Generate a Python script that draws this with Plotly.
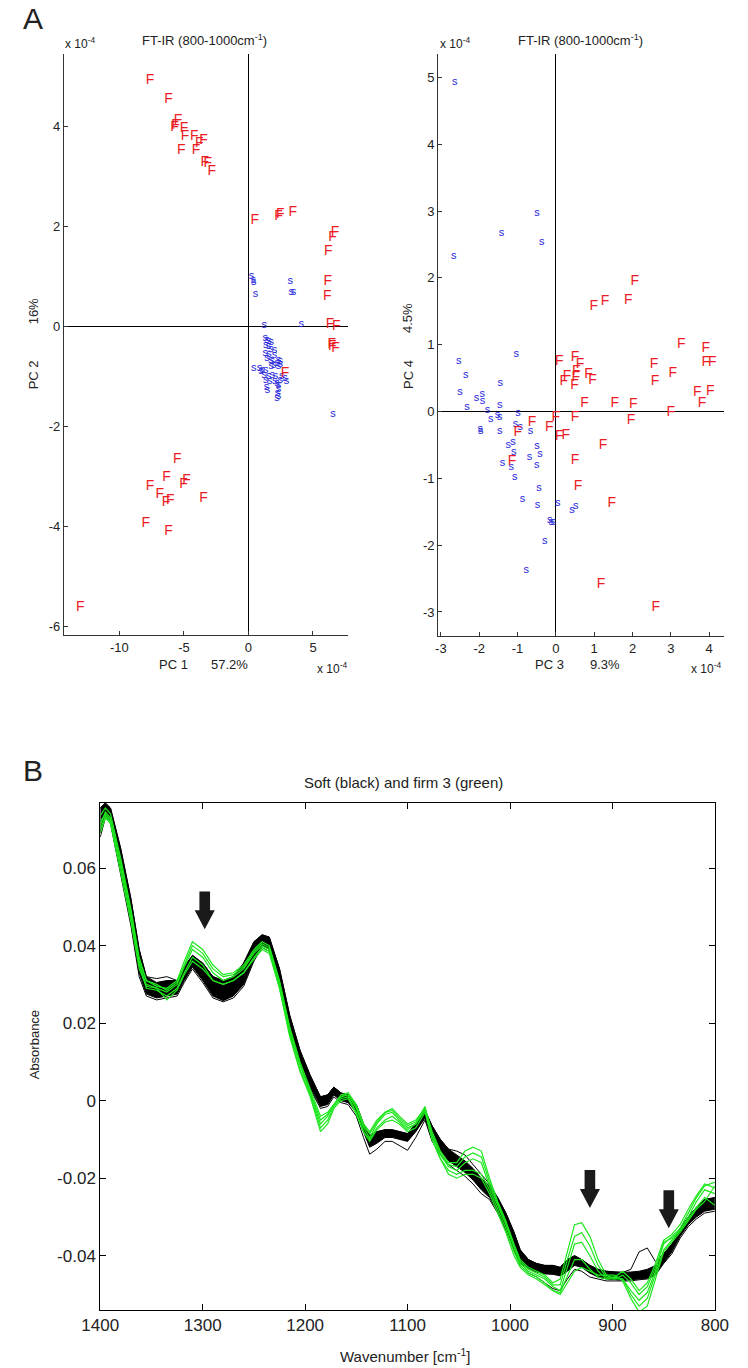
import plotly.graph_objects as go

W, H = 748, 1368
FONT = "Liberation Sans, Arial, sans-serif"
TXT = "#222222"
RED = "#ec1c24"
BLUE = "#2626dc"
GREEN = "#1ee61e"

# ---------- Panel A (left): PC1 vs PC2, units x1e-4 ----------
pc1_firm = [-7.62, -6.19, -5.46, -5.65, -5.72, -4.99, -4.92, -5.21, -4.20, -3.49, -3.81, -4.06,
            -3.39, -3.15, -2.85, 0.49, 2.34, 2.46, 3.44, 6.71, 6.51, 6.19, 6.14, 6.10, 6.32,
            6.81, 6.45, 6.50, 6.75, 2.83, -5.51, -6.34, -7.62, -4.79, -5.04, -6.88, -6.05,
            -6.39, -3.49, -7.96, -6.19, -13.03]
pc2_firm = [4.92, 4.54, 4.12, 4.02, 3.97, 3.95, 3.80, 3.52, 3.80, 3.72, 3.65, 3.52,
            3.27, 3.25, 3.09, 2.12, 2.19, 2.23, 2.27, 1.87, 1.77, 1.49, 0.90, 0.60, 0.04,
            0.00, -0.37, -0.40, -0.44, -0.95, -2.67, -3.03, -3.20, -3.08, -3.16, -3.36, -3.48,
            -3.53, -3.45, -3.95, -4.11, -5.63]
pc1_soft = [0.24, 0.37, 0.42, 0.54, 3.24, 3.32, 3.49, 4.10, 1.23,
            1.30, 1.43, 1.60, 1.77, 1.35, 1.55, 1.72, 2.02, 1.30, 1.60, 2.02, 1.43, 1.72,
            1.84, 2.33, 2.46, 2.21, 2.46, 1.97, 1.77, 2.33, 0.42, 0.86, 1.06, 1.35, 1.23,
            1.55, 1.84, 2.09, 2.58, 2.83, 2.95, 1.35, 1.65, 2.04, 2.21, 2.33, 1.40, 1.48,
            2.33, 2.26, 2.33, 2.21, 2.46, 0.98, 6.56]
pc2_soft = [1.00, 0.92, 0.87, 0.63, 0.89, 0.67, 0.67, 0.04, 0.01,
            -0.25, -0.28, -0.31, -0.33, -0.38, -0.41, -0.47, -0.48, -0.55, -0.56, -0.58, -0.65, -0.68,
            -0.71, -0.68, -0.71, -0.75, -0.76, -0.78, -0.81, -0.81, -0.85, -0.85, -0.88, -0.89, -0.98,
            -1.01, -0.98, -1.01, -1.01, -1.05, -1.11, -1.08, -1.11, -1.11, -1.15, -1.18, -1.23, -1.29,
            -1.27, -1.35, -1.41, -1.45, -1.08, -0.91, -1.77]

# ---------- Panel A (right): PC3 vs PC4, units x1e-4 ----------
pc3_firm = [2.06, 1.89, 0.99, 1.28, 3.27, 3.91, 3.91, 4.08, 0.09, 0.50, 0.63, 0.53, 0.29, 0.21,
            0.52, 0.49, 0.85, 0.96, 2.56, 2.59, 3.05, 3.69, 4.03, 3.81, 0.75, 1.54, 2.02, 3.00,
            0.00, 0.50, 1.96, -0.17, 0.09, 0.26, 1.23, 0.50, 0.58, 1.46, 1.18, 2.61, -0.62,
            -0.99, -1.14]
pc4_firm = [1.95, 1.66, 1.57, 1.64, 1.00, 0.95, 0.74, 0.74, 0.75, 0.81, 0.70, 0.60, 0.52, 0.45,
            0.51, 0.39, 0.55, 0.46, 0.70, 0.45, 0.57, 0.28, 0.30, 0.12, 0.12, 0.12, 0.10, -0.01,
            -0.09, -0.09, -0.13, -0.24, -0.37, -0.36, -0.51, -0.73, -1.12, -1.37, -2.59, -2.94, -0.17,
            -0.32, -0.75]
pc3_soft = [-2.64, -2.66, -1.42, -0.49, -0.37, -1.03, -2.53, -2.35, -2.50, -2.32, -2.07, -1.92,
            -1.91, -1.45, -1.46, -1.78, -1.70, -1.52, -1.46, -1.97, -1.96, -1.46, -0.99, -1.05,
            -0.93, -0.66, -1.24, -1.12, -1.10, -0.69, -0.49, -0.41, -0.50, -1.39, -1.16, -1.07,
            -0.44, -0.87, -0.48, 0.05, -0.16, -0.12, -0.06, -0.29, -0.77, 0.42, 0.52]
pc4_soft = [4.93, 2.32, 2.67, 2.97, 2.53, 0.85, 0.75, 0.54, 0.29, 0.07, 0.20, 0.26,
            0.15, 0.42, 0.09, 0.02, -0.11, -0.06, -0.08, -0.27, -0.29, -0.29, -0.03, -0.19,
            -0.24, -0.29, -0.50, -0.46, -0.61, -0.68, -0.52, -0.64, -0.81, -0.78, -0.83, -0.98,
            -1.15, -1.32, -1.40, -1.37, -1.63, -1.66, -1.66, -1.94, -2.37, -1.48, -1.42]

# ---------- Panel B: spectra ----------
wavenumber = [1400, 1395, 1390, 1380, 1370, 1362, 1355, 1345, 1335, 1325, 1318, 1310, 1300, 1290,
              1280, 1270, 1260, 1250, 1242, 1235, 1225, 1215, 1205, 1195, 1185, 1178, 1172, 1165,
              1158, 1150, 1143, 1137, 1130, 1122, 1115, 1108, 1100, 1092, 1083, 1076, 1068, 1060,
              1052, 1044, 1036, 1028, 1020, 1012, 1004, 996, 990, 982, 974, 966, 958, 951, 944,
              937, 930, 922, 914, 906, 898, 890, 882, 874, 866, 858, 850, 842, 834, 826, 818, 810, 800]

soft_upper = [0.0755, 0.0768, 0.0755, 0.065, 0.052, 0.039, 0.032, 0.0305, 0.031, 0.031, 0.0345, 0.0375,
              0.0355, 0.032, 0.031, 0.032, 0.0355, 0.041, 0.0428, 0.0422, 0.034, 0.022, 0.013, 0.0065,
              0.001, 0.0015, 0.0035, 0.002, 0.0015, -0.001, -0.006, -0.009, -0.008, -0.0075, -0.0075,
              -0.008, -0.0085, -0.006, -0.0025, -0.0065, -0.010, -0.0125, -0.014, -0.0155, -0.0175,
              -0.020, -0.022, -0.025, -0.029, -0.034, -0.0385, -0.041, -0.042, -0.0425, -0.0425,
              -0.043, -0.041, -0.040, -0.041, -0.0425, -0.0435, -0.044, -0.0442, -0.0443, -0.0442,
              -0.044, -0.0435, -0.0425, -0.0395, -0.037, -0.033, -0.030, -0.0275, -0.0255, -0.025]
soft_lower = [0.069, 0.0735, 0.072, 0.059, 0.046, 0.033, 0.0275, 0.0265, 0.027, 0.0275, 0.031, 0.0345,
              0.031, 0.027, 0.0258, 0.027, 0.030, 0.0365, 0.040, 0.039, 0.030, 0.018, 0.010, 0.0035,
              -0.0015, -0.001, 0.0015, 0.0, -0.0005, -0.003, -0.008, -0.012, -0.011, -0.0095, -0.0095,
              -0.010, -0.0105, -0.008, -0.0045, -0.0095, -0.013, -0.0155, -0.017, -0.0185, -0.0205,
              -0.023, -0.025, -0.0285, -0.033, -0.038, -0.042, -0.0432, -0.0442, -0.0447, -0.0448,
              -0.0452, -0.044, -0.0425, -0.043, -0.0445, -0.0455, -0.046, -0.0462, -0.0463, -0.0462,
              -0.046, -0.0458, -0.0447, -0.0418, -0.039, -0.035, -0.032, -0.030, -0.0285, -0.028]
soft_line1 = [0.068, 0.073, 0.0715, 0.058, 0.045, 0.032, 0.027, 0.026, 0.0265, 0.027, 0.0305, 0.034,
              0.0305, 0.0265, 0.0255, 0.0265, 0.0295, 0.036, 0.0395, 0.0385, 0.0295, 0.0175, 0.0095, 0.003,
              -0.002, -0.0015, 0.001, -0.0005, -0.001, -0.004, -0.0095, -0.0138, -0.0125, -0.0105, -0.0105,
              -0.0115, -0.0128, -0.0095, -0.005, -0.0105, -0.014, -0.0165, -0.018, -0.0195, -0.0215,
              -0.024, -0.0255, -0.029, -0.0335, -0.0385, -0.0425, -0.0445, -0.0455, -0.047, -0.0485,
              -0.049, -0.046, -0.0435, -0.044, -0.0455, -0.046, -0.0465, -0.0465, -0.0465, -0.0465,
              -0.0462, -0.046, -0.045, -0.042, -0.0395, -0.0355, -0.0325, -0.0305, -0.029, -0.0285]
soft_line2 = [0.0755, 0.0768, 0.0755, 0.065, 0.052, 0.039, 0.032, 0.0315, 0.032, 0.031, 0.0345, 0.0375,
              0.0355, 0.032, 0.031, 0.032, 0.0355, 0.041, 0.0428, 0.0422, 0.034, 0.022, 0.013, 0.0065,
              0.001, 0.0015, 0.0035, 0.002, 0.0015, -0.001, -0.006, -0.009, -0.008, -0.0075, -0.0075,
              -0.008, -0.0085, -0.006, -0.0025, -0.0065, -0.010, -0.0125, -0.013, -0.014, -0.0165,
              -0.019, -0.0215, -0.025, -0.029, -0.034, -0.0385, -0.041, -0.042, -0.0425, -0.0425,
              -0.043, -0.041, -0.040, -0.041, -0.0425, -0.0435, -0.044, -0.0442, -0.0443, -0.0435,
              -0.039, -0.038, -0.0415, -0.0395, -0.037, -0.033, -0.030, -0.0275, -0.0255, -0.025]

firm_1 = [0.072, 0.074, 0.0725, 0.061, 0.048, 0.036, 0.031, 0.0295, 0.029, 0.031, 0.036, 0.041,
          0.039, 0.035, 0.0325, 0.033, 0.035, 0.039, 0.041, 0.040, 0.031, 0.019, 0.010, 0.003,
          -0.004, -0.003, -0.001, 0.001, 0.002, -0.001, -0.006, -0.008, -0.005, -0.003, -0.002,
          -0.004, -0.006, -0.005, -0.002, -0.008, -0.013, -0.016, -0.016, -0.013, -0.012,
          -0.013, -0.020, -0.026, -0.031, -0.037, -0.041, -0.043, -0.044, -0.045, -0.047,
          -0.046, -0.039, -0.032, -0.0315, -0.035, -0.041, -0.045, -0.046, -0.045, -0.047,
          -0.050, -0.048, -0.043, -0.037, -0.035, -0.033, -0.029, -0.025, -0.022, -0.021]
firm_2 = [0.070, 0.0735, 0.072, 0.060, 0.047, 0.035, 0.030, 0.029, 0.028, 0.030, 0.0345, 0.039,
          0.037, 0.033, 0.031, 0.032, 0.034, 0.038, 0.040, 0.039, 0.030, 0.018, 0.009, 0.002,
          -0.006, -0.004, -0.001, 0.001, 0.0015, -0.002, -0.007, -0.0095, -0.006, -0.0035, -0.003,
          -0.005, -0.007, -0.006, -0.002, -0.009, -0.014, -0.017, -0.018, -0.016, -0.015,
          -0.016, -0.022, -0.027, -0.032, -0.038, -0.042, -0.044, -0.045, -0.046, -0.048,
          -0.049, -0.043, -0.037, -0.0365, -0.040, -0.044, -0.046, -0.046, -0.046, -0.050,
          -0.053, -0.051, -0.045, -0.0385, -0.036, -0.0335, -0.030, -0.026, -0.023, -0.024]
firm_3 = [0.071, 0.0745, 0.073, 0.0615, 0.0485, 0.0355, 0.029, 0.0285, 0.027, 0.029, 0.033, 0.037,
          0.035, 0.031, 0.030, 0.031, 0.033, 0.037, 0.0395, 0.0385, 0.029, 0.017, 0.008, 0.0015,
          -0.007, -0.005, -0.0015, 0.0005, 0.001, -0.003, -0.008, -0.010, -0.007, -0.005, -0.004,
          -0.0055, -0.0075, -0.006, -0.0025, -0.010, -0.015, -0.018, -0.019, -0.018, -0.018,
          -0.019, -0.023, -0.028, -0.033, -0.039, -0.0425, -0.0445, -0.0455, -0.047, -0.049,
          -0.0495, -0.045, -0.041, -0.041, -0.0435, -0.0455, -0.046, -0.0455, -0.046, -0.049,
          -0.0515, -0.0495, -0.044, -0.0365, -0.0355, -0.0335, -0.0305, -0.0275, -0.025, -0.027]
firm_4 = [0.069, 0.073, 0.0715, 0.059, 0.046, 0.034, 0.0295, 0.029, 0.026, 0.0285, 0.0325, 0.036,
          0.034, 0.031, 0.030, 0.031, 0.033, 0.0365, 0.039, 0.038, 0.029, 0.0165, 0.0075, 0.001,
          -0.008, -0.006, -0.002, 0.0, 0.0005, -0.0035, -0.008, -0.0105, -0.0075, -0.0055, -0.005,
          -0.006, -0.008, -0.007, -0.003, -0.010, -0.015, -0.019, -0.020, -0.019, -0.019,
          -0.020, -0.024, -0.029, -0.034, -0.040, -0.043, -0.045, -0.046, -0.0475, -0.049,
          -0.050, -0.047, -0.044, -0.043, -0.044, -0.045, -0.045, -0.045, -0.0465, -0.051,
          -0.0545, -0.053, -0.046, -0.039, -0.0365, -0.034, -0.031, -0.028, -0.026, -0.022]
firm_5 = [0.0735, 0.0755, 0.074, 0.0625, 0.0495, 0.037, 0.031, 0.030, 0.0285, 0.0305, 0.035, 0.040,
          0.038, 0.034, 0.032, 0.0325, 0.0345, 0.0385, 0.0405, 0.0395, 0.0305, 0.0185, 0.0095, 0.0025,
          -0.005, -0.0035, -0.001, 0.0015, 0.002, -0.0015, -0.0065, -0.0085, -0.0055, -0.003, -0.0025,
          -0.0045, -0.0065, -0.0055, -0.0015, -0.0085, -0.0135, -0.0165, -0.017, -0.0145, -0.0135,
          -0.0145, -0.021, -0.0265, -0.0315, -0.0375, -0.0415, -0.0435, -0.0445, -0.0455, -0.0475,
          -0.0475, -0.041, -0.035, -0.034, -0.0375, -0.0425, -0.0455, -0.0455, -0.044, -0.046,
          -0.049, -0.047, -0.042, -0.036, -0.0345, -0.032, -0.028, -0.0245, -0.0215, -0.0225]

arrow_wn = [1298, 922, 845]
arrow_tip = [0.0442, -0.0277, -0.0329]


def pxx(p):
    return p / W


def pxy(p):
    return 1 - p / H


fig = go.Figure()


def add_text_points(x, y, label, color, size, xa, ya):
    fig.add_trace(go.Scatter(
        x=x, y=y, mode="text", text=[label] * len(x),
        textposition="middle center",
        textfont=dict(color=color, size=size, family=FONT),
        xaxis=xa, yaxis=ya, hoverinfo="skip", showlegend=False))


add_text_points(pc1_soft, pc2_soft, "s", BLUE, 11, "x", "y")
add_text_points(pc1_firm, pc2_firm, "F", RED, 14, "x", "y")
add_text_points(pc3_soft, pc4_soft, "s", BLUE, 11, "x2", "y2")
add_text_points(pc3_firm, pc4_firm, "F", RED, 14, "x2", "y2")

# soft band
fig.add_trace(go.Scatter(x=wavenumber, y=soft_lower, mode="lines",
                         line=dict(color="black", width=1), xaxis="x3", yaxis="y3",
                         hoverinfo="skip", showlegend=False))
fig.add_trace(go.Scatter(x=wavenumber, y=soft_upper, mode="lines", fill="tonexty",
                         fillcolor="black", line=dict(color="black", width=1),
                         xaxis="x3", yaxis="y3", hoverinfo="skip", showlegend=False))
for s in (soft_line1, soft_line2):
    fig.add_trace(go.Scatter(x=wavenumber, y=s, mode="lines",
                             line=dict(color="black", width=1), xaxis="x3", yaxis="y3",
                             hoverinfo="skip", showlegend=False))
for g in (firm_1, firm_2, firm_3, firm_4, firm_5):
    fig.add_trace(go.Scatter(x=wavenumber, y=g, mode="lines",
                             line=dict(color=GREEN, width=1.2), xaxis="x3", yaxis="y3",
                             hoverinfo="skip", showlegend=False))

# arrows
shapes = []
SW, HW, HH, TOT = 5.2, 9.8, 0.0049, 0.0098
for wn, tp in zip(arrow_wn, arrow_tip):
    path = (f"M {wn - SW},{tp + TOT} L {wn + SW},{tp + TOT} L {wn + SW},{tp + HH} "
            f"L {wn + HW},{tp + HH} L {wn},{tp} L {wn - HW},{tp + HH} L {wn - SW},{tp + HH} Z")
    shapes.append(dict(type="path", path=path, xref="x3", yref="y3",
                       fillcolor="#1a1a1a", line=dict(width=0)))

tick_small = dict(size=13, color=TXT, family=FONT)
common_top = dict(ticks="inside", ticklen=4, tickcolor="#333", showline=True, linecolor="#333",
                  linewidth=1, zeroline=True, zerolinecolor="black", zerolinewidth=1,
                  showgrid=False, tickfont=tick_small)

fig.update_layout(
    width=W, height=H, margin=dict(l=0, r=0, t=0, b=0),
    paper_bgcolor="white", plot_bgcolor="rgba(0,0,0,0)", showlegend=False,
    xaxis=dict(domain=[pxx(47), pxx(344)], range=[-14.3, 7.7], anchor="y",
               tickvals=[-10, -5, 0, 5], ticktext=["-10", "-5", "0", "5"], **common_top),
    yaxis=dict(domain=[pxy(635), pxy(54)], range=[-6.18, 5.44], anchor="x",
               tickvals=[-6, -4, -2, 0, 2, 4], ticktext=["-6", "-4", "-2", "0", "2", "4"], **common_top),
    xaxis2=dict(domain=[pxx(438.5), pxx(737.3)], range=[-3.07, 4.38], anchor="y2",
                tickvals=[-3, -2, -1, 0, 1, 2, 3, 4],
                ticktext=["-3", "-2", "-1", "0", "1", "2", "3", "4"], **common_top),
    yaxis2=dict(domain=[pxy(636), pxy(54)], range=[-3.36, 5.35], anchor="x2",
                tickvals=[-3, -2, -1, 0, 1, 2, 3, 4, 5],
                ticktext=["-3", "-2", "-1", "0", "1", "2", "3", "4", "5"], **common_top),
    xaxis3=dict(domain=[pxx(85), pxx(728)], range=[1400, 800], anchor="y3",
                tickvals=[1400, 1300, 1200, 1100, 1000, 900, 800],
                ticks="inside", ticklen=6, tickcolor="black", showline=True, linecolor="black",
                linewidth=1, mirror="ticks", zeroline=False, showgrid=False,
                tickfont=dict(size=17, color=TXT, family=FONT)),
    yaxis3=dict(domain=[pxy(1310), pxy(803)], range=[-0.054, 0.0768], anchor="x3",
                tickvals=[-0.04, -0.02, 0, 0.02, 0.04, 0.06],
                ticktext=["-0.04", "-0.02", "0", "0.02", "0.04", "0.06"],
                ticks="inside", ticklen=6, tickcolor="black", showline=True, linecolor="black",
                linewidth=1, mirror="ticks", zeroline=False, showgrid=False,
                tickfont=dict(size=17, color=TXT, family=FONT)),
    shapes=shapes,
)


def ann(text, x, y, size, angle=0, xanchor="center"):
    return dict(text=text, x=pxx(x), y=pxy(y), xref="paper", yref="paper", showarrow=False,
                textangle=angle, xanchor=xanchor, yanchor="middle",
                font=dict(size=size, color=TXT, family=FONT))


annotations = [
    ann("A", 15, 18, 30),
    ann("B", 15, 770, 30),
    ann("FT-IR (800-1000cm<sup>-1</sup>)", 194, 40, 13),
    ann("FT-IR (800-1000cm<sup>-1</sup>)", 587, 40, 13),
    ann("x 10<sup>-4</sup>", 46, 43, 12, xanchor="left"),
    ann("x 10<sup>-4</sup>", 438, 43, 12, xanchor="left"),
    ann("x 10<sup>-4</sup>", 345, 668, 12, xanchor="right"),
    ann("x 10<sup>-4</sup>", 737, 668, 12, xanchor="right"),
    ann("PC 1", 162, 664, 13),
    ann("57.2%", 220, 664, 13),
    ann("PC 3", 555, 664, 13),
    ann("9.3%", 613, 664, 13),
    ann("PC 2", 15, 375, 13, angle=-90),
    ann("16%", 15, 311, 13, angle=-90),
    ann("PC 4", 407, 375, 13, angle=-90),
    ann("4.5%", 407, 318, 13, angle=-90),
    ann("Soft (black) and firm 3 (green)", 402, 783, 15),
    ann("Absorbance", 16, 1045, 13, angle=-90),
    ann("Wavenumber [cm<sup>-1</sup>]", 404, 1355, 15),
]
fig.update_layout(annotations=annotations)

fig.write_html("out.html", config={"displayModeBar": False},
               post_script="document.body.style.margin='0';document.body.style.overflow='hidden';")
